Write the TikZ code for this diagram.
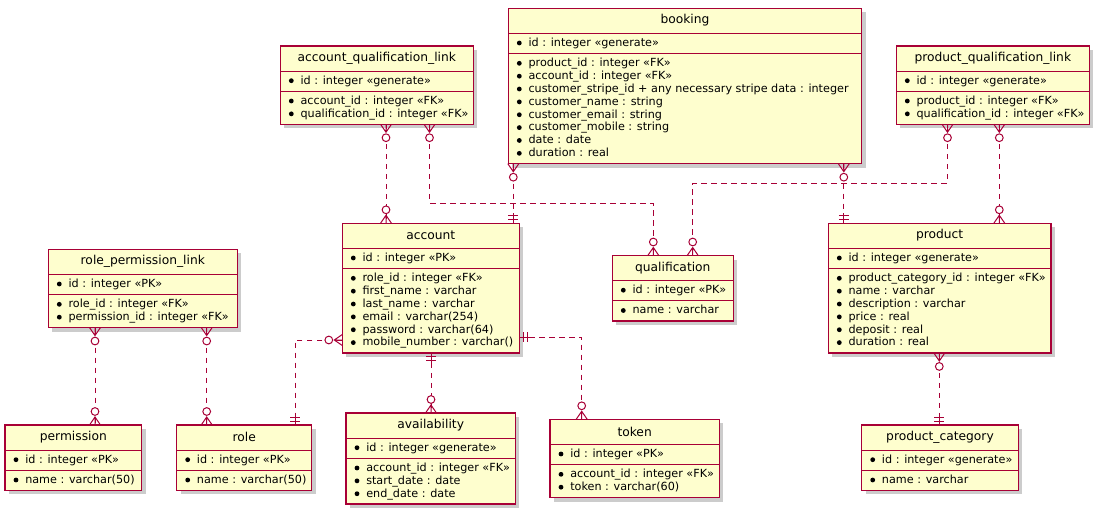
\documentclass[tikz,border=0pt]{standalone}
\usepackage{fontspec}
\setmainfont{DejaVu Sans}
\usetikzlibrary{shadows}
\definecolor{pbord}{HTML}{A80036}
\definecolor{pfill}{HTML}{FEFECE}
\tikzset{
  ebox/.style={draw=pbord, fill=pfill, line width=1pt, inner sep=0pt, outer sep=0pt,
    drop shadow={shadow xshift=3pt, shadow yshift=-3pt, fill=black, opacity=0.2}},
  sepline/.style={draw=pbord, line width=0.7pt},
  ttl/.style={inner sep=0pt, font=\fontsize{9.2}{11}\selectfont},
  fld/.style={anchor=west, inner sep=0pt, text height=0.75em, text depth=0.25em, font=\fontsize{8.4}{10}\selectfont},
  bul/.style={fill=black},
  conn/.style={draw=pbord, line width=0.75pt, dash pattern=on 3.9pt off 3.6pt},
  crow/.style={draw=pbord, line width=0.75pt, solid},
}
% name, x1, x2, top, n, title, id line, field list
\newcommand\ent[8]{%
  \node[ebox, anchor=north west, minimum width={(#3-#2)*0.75pt},
        minimum height={(52.5+12.86*#5)*0.75pt}] (#1) at (#2,#4) {};
  \draw[sepline] (#2,#4+25) -- (#3,#4+25) (#2,#4+45) -- (#3,#4+45);
  \node[ttl] (#1-t) at ({(#2+#3)/2},#4+12.3) {#6};
  \fill[bul] (#2+11,#4+34.7) circle (1.8pt);
  \node[fld] (#1-id) at (#2+20,#4+34.7) {#7};
  \foreach \t [count=\k from 0] in {#8} {
    \fill[bul] (#2+11,{#4+55+12.86*\k}) circle (1.8pt);
    \node[fld] (#1-f\k) at (#2+20,{#4+55+12.86*\k}) {\t};
  }%
}
\newcommand\crowmany[2]{%
  \draw[crow, shift={#1}, rotate=#2] (0,-5.5) -- (8,0) -- (0,5.5) (0,0) -- (8,0);
  \draw[crow, fill=white, shift={#1}, rotate=#2] (13.5,0) circle (2.9pt);
}
\newcommand\crowone[2]{%
  \draw[crow, shift={#1}, rotate=#2] (0,0) -- (10,0) (4,-5) -- (4,5) (8,-5) -- (8,5);
}
\begin{document}
\begin{tikzpicture}[x=0.75pt, y=-0.75pt]
\useasboundingbox (0,0) rectangle (1099,514);

\ent{booking}{508.3}{861.7}{8.3}{8}{booking}{id : integer «generate»}{
  {product\_id : integer «FK»},
  {account\_id : integer «FK»},
  {customer\_stripe\_id + any necessary stripe data : integer},
  {customer\_name : string},
  {customer\_email : string},
  {customer\_mobile : string},
  {date : date},
  {duration : real}}
\ent{aql}{280.3}{473.3}{46}{2}{account\_qualification\_link}{id : integer «generate»}{
  {account\_id : integer «FK»},
  {qualification\_id : integer «FK»}}
\ent{pql}{896.3}{1089.3}{46}{2}{product\_qualification\_link}{id : integer «generate»}{
  {product\_id : integer «FK»},
  {qualification\_id : integer «FK»}}
\ent{acc}{342.3}{519.3}{223.3}{6}{account}{id : integer «PK»}{
  {role\_id : integer «FK»},
  {first\_name : varchar},
  {last\_name : varchar},
  {email : varchar(254)},
  {password : varchar(64)},
  {mobile\_number : varchar()}}
\ent{qual}{612.3}{733.3}{255.5}{1}{qualification}{id : integer «PK»}{
  {name : varchar}}
\ent{prod}{828.3}{1051}{223.3}{6}{product}{id : integer «generate»}{
  {product\_category\_id : integer «FK»},
  {name : varchar},
  {description : varchar},
  {price : real},
  {deposit : real},
  {duration : real}}
\ent{rpl}{48.3}{237.3}{249.3}{2}{role\_permission\_link}{id : integer «PK»}{
  {role\_id : integer «FK»},
  {permission\_id : integer «FK»}}
\ent{perm}{5}{141.7}{425}{1}{permission}{id : integer «PK»}{
  {name : varchar(50)}}
\ent{role}{176.7}{311.7}{425}{1}{role}{id : integer «PK»}{
  {name : varchar(50)}}
\ent{avail}{346}{515.3}{413}{3}{availability}{id : integer «generate»}{
  {account\_id : integer «FK»},
  {start\_date : date},
  {end\_date : date}}
\ent{token}{550}{719.3}{419.3}{2}{token}{id : integer «PK»}{
  {account\_id : integer «FK»},
  {token : varchar(60)}}
\ent{pc}{861.7}{1018.3}{425}{1}{product\_category}{id : integer «generate»}{
  {name : varchar}}

% connectors
\draw[conn] (386,0 |- aql.south) -- (386,0 |- acc.north);
\draw[conn] (429.5,0 |- aql.south) |- (653.3,203.3) -- (653.3,0 |- qual.north);
\draw[conn] (513.3,0 |- booking.south) -- (513.3,0 |- acc.north);
\draw[conn] (843.8,0 |- booking.south) -- (843.8,0 |- prod.north);
\draw[conn] (947.5,0 |- pql.south) |- (692.7,183.3) -- (692.7,0 |- qual.north);
\draw[conn] (999.3,0 |- pql.south) -- (999.3,0 |- prod.north);
\draw[conn] (acc.west |- 0,340) -| (295,0 |- role.north);
\draw[conn] (431,0 |- acc.south) -- (431,0 |- avail.north);
\draw[conn] (acc.east |- 0,337) -| (581.7,0 |- token.north);
\draw[conn] (95,0 |- rpl.south) -- (95,0 |- perm.north);
\draw[conn] (206.7,0 |- rpl.south) -- (206.7,0 |- role.north);
\draw[conn] (939.3,0 |- prod.south) -- (939.3,0 |- pc.north);

% ends
\crowmany{(386,0 |- aql.south)}{-90}
\crowmany{(386,0 |- acc.north)}{90}
\crowmany{(429.5,0 |- aql.south)}{-90}
\crowmany{(653.3,0 |- qual.north)}{90}
\crowmany{(513.3,0 |- booking.south)}{-90}
\crowone{(513.3,0 |- acc.north)}{90}
\crowmany{(843.8,0 |- booking.south)}{-90}
\crowone{(843.8,0 |- prod.north)}{90}
\crowmany{(947.5,0 |- pql.south)}{-90}
\crowmany{(692.7,0 |- qual.north)}{90}
\crowmany{(999.3,0 |- pql.south)}{-90}
\crowmany{(999.3,0 |- prod.north)}{90}
\crowmany{(acc.west |- 0,340)}{180}
\crowone{(295,0 |- role.north)}{90}
\crowone{(431,0 |- acc.south)}{-90}
\crowmany{(431,0 |- avail.north)}{90}
\crowone{(acc.east |- 0,337)}{0}
\crowmany{(581.7,0 |- token.north)}{90}
\crowmany{(95,0 |- rpl.south)}{-90}
\crowmany{(95,0 |- perm.north)}{90}
\crowmany{(206.7,0 |- rpl.south)}{-90}
\crowmany{(206.7,0 |- role.north)}{90}
\crowmany{(939.3,0 |- prod.south)}{-90}
\crowone{(939.3,0 |- pc.north)}{90}
\end{tikzpicture}
\end{document}
